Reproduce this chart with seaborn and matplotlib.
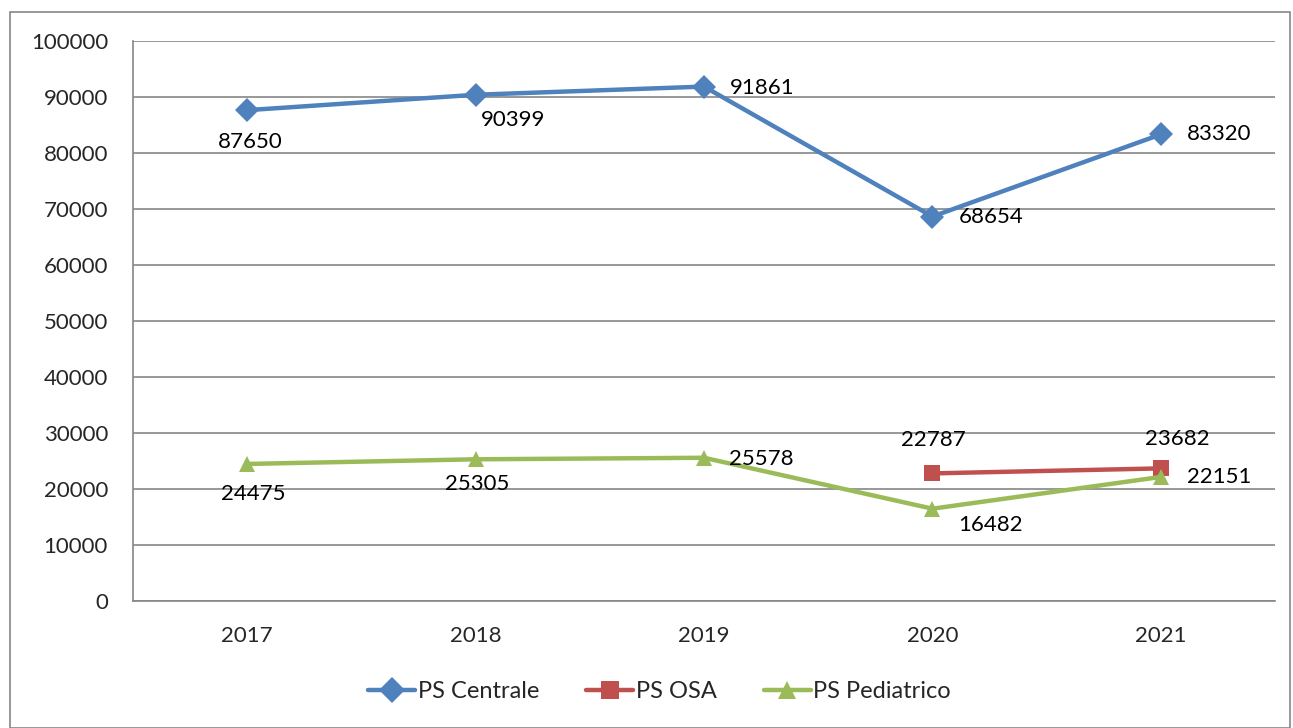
import matplotlib
matplotlib.use("Agg")
import matplotlib.pyplot as plt
import seaborn as sns
import pandas as pd
from matplotlib.patches import Rectangle

years = ["2017", "2018", "2019", "2020", "2021"]
centrale = [87650, 90399, 91861, 68654, 83320]
osa = [None, None, None, 22787, 23682]
pediatrico = [24475, 25305, 25578, 16482, 22151]

series_names = ["PS Centrale", "PS OSA", "PS Pediatrico"]
colors = ["#4F81BD", "#C0504D", "#9BBB59"]
markers = ["D", "s", "^"]

# label offsets in points (dx, dy) per series
centrale_off = [(2, -23), (27, -18), (42, -1), (42, 0), (42, 0)]
osa_off = [None, None, None, (1, 24), (12, 21)]
pediatrico_off = [(4, -22), (1, -18), (41, -1), (42, -12), (42, 0)]

FS = 16

sns.set_style("white")
plt.rcParams["font.family"] = ["Lato", "DejaVu Sans"]

df = pd.DataFrame({"year": years, "PS Centrale": centrale,
                   "PS OSA": osa, "PS Pediatrico": pediatrico})
long = df.melt(id_vars="year", var_name="serie", value_name="val").dropna()
long["x"] = long["year"].map({y: i for i, y in enumerate(years)})

fig = plt.figure(figsize=(12.93, 7.28), dpi=100)
ax = fig.add_axes([133 / 1293, 1 - 601 / 728, (1275 - 133) / 1293, (601 - 41) / 728])

sns.lineplot(data=long, x="x", y="val", hue="serie", style="serie",
             hue_order=series_names, style_order=series_names,
             palette=colors, markers=markers, dashes=False,
             linewidth=3.2, markersize=12, markeredgewidth=0, ax=ax)

for name, vals, offs in [("PS Centrale", centrale, centrale_off),
                         ("PS OSA", osa, osa_off),
                         ("PS Pediatrico", pediatrico, pediatrico_off)]:
    for i, v in enumerate(vals):
        if v is None:
            continue
        ax.annotate(str(v), (i, v), xytext=offs[i], textcoords="offset points",
                    ha="center", va="center", fontsize=FS, color="black")

ax.set_xlim(-0.5, 4.5)
ax.set_ylim(0, 100000)
ax.set_yticks(range(0, 100001, 10000))
ax.set_xticks(range(5))
ax.set_xticklabels(years)
ax.set_xticks([i - 0.5 for i in range(6)], minor=True)
ax.tick_params(axis="x", which="major", length=0, pad=18, labelsize=FS)
ax.tick_params(axis="x", which="minor", length=5, color="#868686", width=1.2)
ax.tick_params(axis="y", length=5, color="#868686", width=1.2, pad=13, labelsize=FS)
ax.yaxis.grid(True, color="#868686", linewidth=1.2)
ax.set_axisbelow(True)
ax.set_xlabel("")
ax.set_ylabel("")
for s in ["top", "right"]:
    ax.spines[s].set_visible(False)
for s in ["left", "bottom"]:
    ax.spines[s].set_color("#868686")
    ax.spines[s].set_linewidth(1.2)

handles, labels = ax.get_legend_handles_labels()
for h in handles:
    h.set_markersize(13)
ax.legend(handles, labels, loc="center", bbox_to_anchor=(0.461, -0.162),
          ncol=3, frameon=False, fontsize=17, handlelength=2.0,
          handletextpad=0.1, columnspacing=2.0)

fig.patches.append(Rectangle((10 / 1293, 0), (1290 - 10) / 1293, 1 - 12 / 728,
                             transform=fig.transFigure, fill=False,
                             edgecolor="#868686", linewidth=1.2))

fig.savefig("out.png", dpi=100)
